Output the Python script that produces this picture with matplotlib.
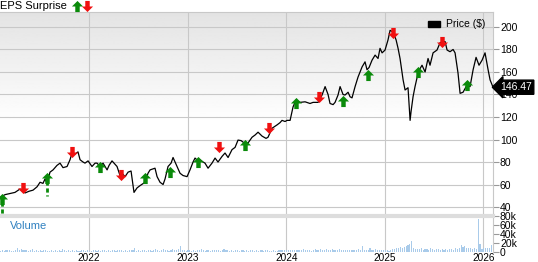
import matplotlib.pyplot as plt
import numpy as np
from matplotlib.path import Path
from matplotlib.patches import Patch

plt.rcParams['font.family'] = ['Liberation Sans', 'DejaVu Sans']

# price trace, time in decimal years
price_t = [2021.108, 2021.148, 2021.199, 2021.249, 2021.300, 2021.351, 2021.391, 2021.432,
           2021.473, 2021.503, 2021.533, 2021.554, 2021.574, 2021.604, 2021.635, 2021.675,
           2021.706, 2021.736, 2021.777, 2021.807, 2021.828, 2021.858, 2021.888, 2021.909,
           2021.939, 2021.959, 2021.990, 2022.030, 2022.061, 2022.081, 2022.112, 2022.142,
           2022.183, 2022.203, 2022.233, 2022.264, 2022.284, 2022.314, 2022.345, 2022.365,
           2022.396, 2022.426, 2022.456, 2022.487, 2022.517, 2022.568, 2022.598, 2022.619,
           2022.669, 2022.690, 2022.720, 2022.751, 2022.771, 2022.801, 2022.832, 2022.852,
           2022.872, 2022.892, 2022.923, 2022.953, 2022.994, 2023.024, 2023.055, 2023.075,
           2023.105, 2023.126, 2023.156, 2023.176, 2023.207, 2023.247, 2023.278, 2023.308,
           2023.349, 2023.379, 2023.410, 2023.450, 2023.481, 2023.511, 2023.542, 2023.572,
           2023.613, 2023.653, 2023.684, 2023.714, 2023.755, 2023.795, 2023.815, 2023.856,
           2023.907, 2023.937, 2023.957, 2023.988, 2024.008, 2024.039, 2024.069, 2024.099,
           2024.140, 2024.191, 2024.241, 2024.272, 2024.323, 2024.363, 2024.394, 2024.424,
           2024.444, 2024.475, 2024.495, 2024.525, 2024.546, 2024.576, 2024.596, 2024.627,
           2024.647, 2024.667, 2024.698, 2024.728, 2024.769, 2024.799, 2024.819, 2024.840,
           2024.870, 2024.901, 2024.931, 2024.951, 2024.972, 2025.002, 2025.032, 2025.053,
           2025.083, 2025.114, 2025.134, 2025.154, 2025.185, 2025.205, 2025.235, 2025.256,
           2025.266, 2025.286, 2025.306, 2025.337, 2025.357, 2025.377, 2025.408, 2025.438,
           2025.458, 2025.489, 2025.529, 2025.560, 2025.590, 2025.611, 2025.631, 2025.661,
           2025.692, 2025.712, 2025.742, 2025.763, 2025.793, 2025.834, 2025.864, 2025.895,
           2025.925, 2025.955, 2025.986, 2026.016, 2026.047, 2026.067, 2026.097]
price = [49, 51, 52, 53, 56, 52.5, 54, 55,
         58, 62, 61, 65, 61, 71, 73, 77,
         79, 75, 76, 82, 88, 87, 89, 82,
         80, 79, 81, 76, 79, 79, 76, 79,
         73, 77, 81, 78, 76, 68, 69, 67,
         71, 72, 53, 57, 59, 62, 70, 73,
         74.5, 67, 62, 60, 65, 76, 79, 84,
         80, 76, 70, 68, 67, 73, 80, 83.5,
         81, 82, 80, 79, 74.5, 79, 83.5, 80,
         85, 88, 84, 91, 93, 99.5, 99, 97,
         97, 102, 104, 106.5, 103, 101, 102, 110,
         113, 115, 117, 116, 117, 117, 129, 135,
         133, 133.5, 132, 133, 133, 139.5, 147, 140,
         132, 131, 133, 139.5, 147, 140, 139.5, 142,
         138, 137, 147, 155.5, 164.5, 169, 162, 164,
         170.5, 175, 172, 181, 177, 179.5, 188.5, 197,
         195.5, 188.5, 181, 172, 153, 144, 146, 117,
         125, 138, 147, 159, 163, 166, 160, 172,
         166, 177, 179.5, 186, 187, 187, 179.5, 178,
         180, 177, 159, 141, 142, 148.5, 147, 162,
         173, 166, 170.5, 177, 162, 153, 146.47]
last_price = 146.47

# EPS surprise markers
eps_t = [2021.118, 2021.331, 2021.574, 2021.828, 2022.112, 2022.325, 2022.568, 2022.822,
         2023.105, 2023.318, 2023.582, 2023.826, 2024.099, 2024.333, 2024.576, 2024.830,
         2025.083, 2025.337, 2025.580, 2025.834]
eps_y = [47.5, 57, 66, 89, 75.5, 68.5, 66, 71, 80, 93, 95, 110, 132.5, 138, 134, 157,
         194.5, 160, 186.5, 148.5]
eps_beat = [1, 0, 1, 0, 1, 0, 1, 1, 1, 0, 1, 0, 1, 0, 1, 1, 0, 1, 0, 1]
eps_stem = [1, 0, 1, 0, 0, 0, 0, 0, 0, 0, 0, 0, 0, 0, 0, 0, 0, 0, 0, 0]

# weekly volume (thousands), starting 2021.1
volume = [3, 4, 3, 5, 4, 4, 3, 3, 5, 9, 4, 7, 4,
          4, 5, 3, 4, 6, 3, 4, 3, 4, 3, 5, 4, 3,
          3, 4, 3, 5, 3, 4, 3, 6, 4, 3, 4, 3, 5,
          3, 4, 3, 3, 4, 5, 3, 4, 3, 3, 4, 5, 3,
          4, 3, 5, 4, 3, 4, 3, 5, 4, 3, 4, 5, 4,
          3, 4, 3, 5, 4, 4, 10, 3, 4, 3, 5, 4, 3,
          4, 5, 3, 4, 6, 4, 3, 4, 6, 5, 4, 3, 5,
          6, 4, 5, 6, 13, 5, 4, 3, 4, 5, 3, 4, 3,
          4, 5, 7, 4, 3, 4, 5, 3, 4, 4, 5, 4, 3,
          4, 6, 5, 4, 3, 4, 3, 5, 4, 3, 4, 5, 3,
          4, 3, 5, 4, 3, 4, 3, 5, 4, 3, 4, 4, 3,
          3, 4, 3, 3, 4, 5, 4, 5, 4, 5, 4, 5, 4,
          5, 4, 4, 5, 6, 4, 5, 4, 3, 5, 6, 4, 5,
          6, 5, 4, 7, 5, 4, 6, 4, 5, 4, 6, 5, 4,
          4, 5, 4, 5, 4, 5, 4, 6, 5, 13, 5, 4, 4,
          8, 5, 4, 6, 5, 4, 5, 4, 5, 4, 3, 5, 7,
          6, 9, 8, 11, 9, 11, 13, 15, 18, 24, 10, 7, 6,
          6, 8, 5, 7, 6, 5, 8, 6, 5, 7, 6, 5, 6,
          5, 6, 5, 7, 6, 5, 8, 6, 9, 15, 12, 14, 10,
          9, 8, 7, 8, 6, 73, 17, 6, 8, 9, 8, 9, 15]
vol_start = 2021.1

years = [2022, 2023, 2024, 2025, 2026]
price_ticks = [40, 60, 80, 100, 120, 140, 160, 180, 200]
vol_ticks = [0, 20, 40, 60, 80]
vol_labels = ['0', '20k', '40k', '60k', '80k']

t0, t1 = 2021.097, 2026.097
grid_c = '#c8c8c8'
green = '#0a8a0a'
red = '#f01010'

up = Path([(-0.4, -1), (0.4, -1), (0.4, 0), (1, 0), (0, 1), (-1, 0), (-0.4, 0), (-0.4, -1)])
down = Path([(-0.4, 1), (0.4, 1), (0.4, 0), (1, 0), (0, -1), (-1, 0), (-0.4, 0), (-0.4, 1)])

fig = plt.figure(figsize=(5.38, 2.62), dpi=100)
ax = fig.add_axes([0, 0.1832, 0.9164, 0.771])
axv = fig.add_axes([0, 0.0381, 0.9164, 0.1375])

# gradient background
grad = np.linspace(0, 1, 200).reshape(-1, 1)
grad = np.clip(grad * 1.8, 0, 1)
ax.imshow(0.89 + 0.11 * grad, cmap='gray', vmin=0, vmax=1, aspect='auto',
          extent=[t0, t1, 33.8, 213.3], origin='upper', zorder=0)

ax.plot(price_t, price, color='black', lw=0.9, zorder=3)
for t, y, b, s in zip(eps_t, eps_y, eps_beat, eps_stem):
    if s:
        ax.plot([t, t], [y - 3, y - 16], color=green, lw=2, ls=(0, (1.5, 1)), zorder=3)
    ax.plot(t, y, marker=up if b else down, color=green if b else red,
            ms=8, mew=0, ls='none', zorder=4, clip_on=False)

ax.set_xlim(t0, t1)
ax.set_ylim(33.8, 213.3)
ax.set_yticks(price_ticks)
ax.set_xticks(years)
ax.set_xticklabels([])
ax.grid(True, color=grid_c, lw=0.8)
ax.yaxis.tick_right()
ax.tick_params(axis='y', length=4, width=0.8, color='#999999', pad=1, labelsize=7.5)
ax.tick_params(axis='x', length=0)
for side in ['left', 'bottom']:
    ax.spines[side].set_visible(False)
for side in ['top', 'right']:
    ax.spines[side].set_color(grid_c)
ax.set_axisbelow(True)

ax.legend(handles=[Patch(color='black', label='Price ($)')], loc='upper right',
          frameon=False, fontsize=7.5, handlelength=1.2, handleheight=0.5,
          borderaxespad=0.3, handletextpad=0.6)

ax.annotate(f'{last_price:.2f}', xy=(1, last_price), xycoords=('axes fraction', 'data'),
            xytext=(5, 0), textcoords='offset points', va='center', ha='left',
            color='white', fontsize=7.5, zorder=10,
            bbox=dict(boxstyle='larrow,pad=0.2', fc='black', ec='black'),
            annotation_clip=False)

# volume panel
vol_t = [vol_start + i / 52 for i in range(len(volume))]
axv.bar(vol_t, volume, width=0.6 / 52, color='#a9cbea', zorder=2)
axv.set_xlim(t0, t1)
axv.set_ylim(0, 80)
axv.set_yticks(vol_ticks)
axv.set_yticklabels(vol_labels)
axv.set_xticks(years)
axv.set_xticklabels([str(y) for y in years])
axv.grid(True, axis='x', color=grid_c, lw=0.8)
axv.yaxis.tick_right()
axv.tick_params(axis='y', length=4, width=0.8, color='#999999', pad=1, labelsize=7.5)
axv.tick_params(axis='x', length=0, pad=0.5, labelsize=7.2)
for side in ['left', 'bottom']:
    axv.spines[side].set_visible(False)
axv.spines['right'].set_color(grid_c)
axv.spines['top'].set_color('#dddddd')
axv.spines['top'].set_linewidth(3)
axv.set_axisbelow(True)
axv.text(0.02, 0.72, 'Volume', transform=axv.transAxes, color='#2f80c0',
         fontsize=8, va='center', ha='left')

# header
fig.text(0.0, 0.977, 'EPS Surprise', fontsize=8, va='center', ha='left')
fig.lines.append(plt.Line2D([0.143], [0.977], marker=up, color=green, ms=8, mew=0,
                            transform=fig.transFigure))
fig.lines.append(plt.Line2D([0.162], [0.977], marker=down, color=red, ms=8, mew=0,
                            transform=fig.transFigure))

fig.savefig('out.png', dpi=100)
